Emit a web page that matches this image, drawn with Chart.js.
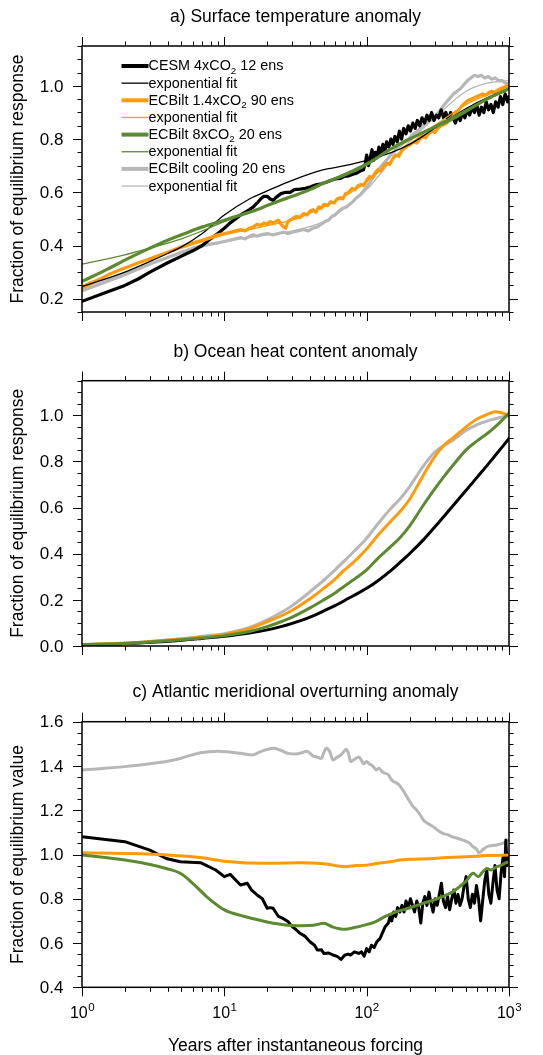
<!DOCTYPE html>
<html>
<head>
<meta charset="utf-8">
<script src="https://cdn.jsdelivr.net/npm/chart.js@4.4.1/dist/chart.umd.min.js"></script>
<style>
  body { margin: 0; background: #fff; }
  .panel { position: absolute; left: 0; }
</style>
</head>
<body>
<canvas id="panel-a" class="panel" width="543" height="330" style="top:0px;width:543px;height:330px"></canvas>
<canvas id="panel-b" class="panel" width="543" height="340" style="top:330px;width:543px;height:340px"></canvas>
<canvas id="panel-c" class="panel" width="543" height="385" style="top:670px;width:543px;height:385px"></canvas>
<script>
// colours
const BLACK = "#000000";
const ORANGE = "#ff9a0a";
const GREEN = "#5b8a30";
const GRAY = "#b7b7b7";
const FONT = '"Liberation Sans", Arial, Helvetica, sans-serif';

// ---- a) Surface temperature anomaly ----
const tsCesmYears = [1, 1.5, 2, 2.5, 3, 4, 5, 6, 7, 8, 9, 10, 11, 12, 13, 14, 15, 16, 17, 18, 19, 20, 21, 22, 23, 25, 27, 29, 31, 34, 37, 40, 44, 48, 52, 56, 60, 65, 70, 75, 80, 85, 90,
  95, 98, 100, 103, 106, 109, 112, 115, 118, 122, 126, 130, 134, 138, 143, 148, 153, 158, 164, 170, 176, 182, 189, 196, 203, 211, 219, 227, 236, 245, 255, 265, 275, 286, 297,
  309, 321, 334, 347, 360, 374, 389, 404, 420, 437, 454, 472, 490, 509, 529, 550, 572, 594, 617, 641, 666, 692, 719, 747, 776, 806, 838, 871, 905, 940, 977, 1000];
const tsCesm = [0.19, 0.225, 0.25, 0.275, 0.30, 0.335, 0.36, 0.38, 0.40, 0.425, 0.445, 0.465, 0.485, 0.50, 0.515, 0.525, 0.535, 0.545, 0.56, 0.575, 0.585, 0.585, 0.575, 0.57, 0.58, 0.595, 0.60, 0.60, 0.61, 0.612, 0.615, 0.62, 0.628, 0.632, 0.638, 0.644, 0.65, 0.652, 0.66, 0.662, 0.668, 0.672, 0.68,
  0.685, 0.71, 0.74, 0.70, 0.73, 0.76, 0.72, 0.75, 0.73, 0.77, 0.74, 0.78, 0.75, 0.79, 0.77, 0.80, 0.78, 0.81, 0.79, 0.83, 0.80, 0.84, 0.82, 0.85, 0.83, 0.86, 0.84, 0.87, 0.85, 0.88, 0.86, 0.89, 0.87, 0.90, 0.87,
  0.89, 0.88, 0.91, 0.88, 0.90, 0.87, 0.90, 0.88, 0.86, 0.89, 0.87, 0.90, 0.88, 0.91, 0.89, 0.92, 0.90, 0.93, 0.89, 0.92, 0.90, 0.94, 0.91, 0.93, 0.90, 0.94, 0.92, 0.96, 0.93, 0.97, 0.94, 0.96];
const tsCesmFitYears = [1, 2, 3, 4, 5, 7, 10, 15, 20, 30, 50, 70, 100, 150, 200, 300, 500, 700, 1000];
const tsCesmFit = [0.245, 0.30, 0.34, 0.37, 0.395, 0.445, 0.515, 0.575, 0.605, 0.645, 0.685, 0.70, 0.72, 0.75, 0.78, 0.84, 0.915, 0.955, 0.99];

const tsLowYears = [1, 1.3, 1.6, 2, 2.5, 3, 4, 5, 6, 7, 8, 9, 10, 11, 12, 13, 14, 15, 16, 17, 18, 19, 20, 21, 22, 23, 24, 25, 26, 27, 28, 29, 30, 32, 34, 36, 38, 40, 42, 44, 46, 48, 50,
  53, 56, 59, 62, 65, 68, 71, 75, 79, 83, 87, 91, 95, 100, 105, 110, 115, 120, 126, 132, 138, 145, 152, 160, 168, 176, 185, 194, 204, 214, 225, 236, 248, 260, 273, 287, 301,
  316, 332, 349, 366, 384, 403, 423, 444, 466, 489, 513, 539, 566, 594, 624, 655, 688, 722, 758, 796, 836, 878, 922, 968, 1000];
const tsLow = [0.24, 0.27, 0.295, 0.315, 0.335, 0.35, 0.375, 0.395, 0.41, 0.42, 0.43, 0.44, 0.445, 0.45, 0.455, 0.46, 0.455, 0.465, 0.47, 0.48, 0.475, 0.485, 0.48, 0.49, 0.485, 0.49, 0.495, 0.48, 0.47, 0.465, 0.49, 0.495, 0.50, 0.51, 0.505, 0.52, 0.515, 0.53, 0.535, 0.525, 0.545, 0.54, 0.555,
  0.55, 0.565, 0.56, 0.575, 0.58, 0.575, 0.595, 0.60, 0.615, 0.61, 0.625, 0.63, 0.625, 0.645, 0.66, 0.655, 0.675, 0.685, 0.68, 0.70, 0.71, 0.705, 0.725, 0.74, 0.735, 0.755, 0.765, 0.775, 0.78, 0.79, 0.785, 0.80, 0.81, 0.805, 0.82, 0.83, 0.825,
  0.84, 0.85, 0.855, 0.86, 0.875, 0.885, 0.90, 0.91, 0.925, 0.935, 0.945, 0.95, 0.955, 0.96, 0.965, 0.97, 0.965, 0.975, 0.98, 0.975, 0.985, 0.99, 0.995, 1.0, 1.0];
const tsLowFitYears = [1, 2, 3, 5, 7, 10, 15, 20, 30, 50, 70, 100, 150, 200, 300, 500, 700, 1000];
const tsLowFit = [0.25, 0.315, 0.35, 0.39, 0.415, 0.44, 0.46, 0.475, 0.495, 0.545, 0.585, 0.64, 0.72, 0.78, 0.85, 0.93, 0.965, 0.99];

const tsHighYears = [1, 1.5, 2, 3, 4, 5, 7, 10, 13, 16, 20, 25, 30, 40, 50, 70, 100, 150, 200, 300, 400, 500, 700, 1000];
const tsHigh = [0.265, 0.31, 0.345, 0.39, 0.42, 0.44, 0.47, 0.495, 0.515, 0.53, 0.55, 0.57, 0.585, 0.61, 0.635, 0.665, 0.705, 0.765, 0.80, 0.845, 0.875, 0.905, 0.95, 0.99];
const tsHighFitYears = [1, 2, 3, 5, 7, 10, 15, 20, 30, 50, 100, 200, 300, 500, 700, 1000];
const tsHighFit = [0.33, 0.365, 0.39, 0.425, 0.455, 0.49, 0.525, 0.55, 0.585, 0.635, 0.71, 0.80, 0.85, 0.91, 0.95, 0.985];

const tsCoolYears = [1, 1.5, 2, 3, 4, 5, 6, 7, 8, 9, 10, 11, 12, 13, 14, 15, 16, 17, 18, 20, 22, 24, 26, 28, 30, 33, 36, 39, 42, 45, 48, 51, 54, 57, 60, 64, 68, 72, 76, 80, 85, 90, 95,
  100, 106, 112, 118, 125, 132, 140, 148, 157, 166, 176, 186, 197, 208, 220, 233, 246, 260, 275, 291, 308, 326, 345, 365, 386, 408, 432, 457, 483, 511, 540, 571, 604, 639, 676, 715, 756, 800, 846, 895, 946, 1000];
const tsCool = [0.23, 0.265, 0.29, 0.33, 0.355, 0.375, 0.39, 0.40, 0.405, 0.41, 0.415, 0.42, 0.425, 0.43, 0.425, 0.435, 0.44, 0.435, 0.44, 0.445, 0.44, 0.445, 0.45, 0.445, 0.45, 0.455, 0.46, 0.455, 0.465, 0.47, 0.48, 0.49, 0.495, 0.51, 0.515, 0.53, 0.54, 0.545, 0.555, 0.565, 0.58, 0.59, 0.605,
  0.62, 0.64, 0.66, 0.675, 0.695, 0.71, 0.725, 0.74, 0.755, 0.77, 0.78, 0.79, 0.80, 0.815, 0.825, 0.835, 0.85, 0.86, 0.87, 0.88, 0.89, 0.905, 0.925, 0.94, 0.955, 0.97, 0.98, 0.99, 1.005, 1.02, 1.03, 1.04, 1.035, 1.04, 1.03, 1.035, 1.025, 1.03, 1.02, 1.02, 1.01, 1.01];
const tsCoolFitYears = [1, 2, 3, 5, 7, 10, 20, 30, 50, 70, 100, 150, 200, 300, 500, 700, 1000];
const tsCoolFit = [0.235, 0.295, 0.33, 0.37, 0.395, 0.415, 0.44, 0.455, 0.49, 0.54, 0.61, 0.72, 0.79, 0.88, 0.98, 1.01, 1.02];

// ---- b) Ocean heat content anomaly ----
const ohcYears = [1, 2, 3, 5, 7, 10, 15, 20, 25, 30, 40, 50, 60, 70, 80, 100, 120, 150, 170, 200, 250, 300, 350, 400, 500, 600, 700, 800, 900, 1000];
const ohcCesm = [0.005, 0.01, 0.016, 0.025, 0.033, 0.042, 0.056, 0.07, 0.084, 0.098, 0.125, 0.152, 0.175, 0.197, 0.217, 0.25, 0.283, 0.33, 0.36, 0.40, 0.46, 0.515, 0.562, 0.605, 0.675, 0.733, 0.782, 0.826, 0.864, 0.90];
const ohcLow = [0.006, 0.012, 0.019, 0.03, 0.039, 0.05, 0.075, 0.105, 0.13, 0.155, 0.205, 0.25, 0.29, 0.33, 0.36, 0.42, 0.48, 0.545, 0.58, 0.635, 0.74, 0.82, 0.87, 0.90, 0.95, 0.985, 1.003, 1.015, 1.01, 0.998];
const ohcHigh = [0.006, 0.011, 0.017, 0.027, 0.035, 0.045, 0.063, 0.084, 0.105, 0.125, 0.165, 0.20, 0.23, 0.26, 0.285, 0.33, 0.38, 0.435, 0.467, 0.52, 0.61, 0.68, 0.735, 0.78, 0.85, 0.89, 0.92, 0.95, 0.98, 1.01];
const ohcCool = [0.007, 0.013, 0.02, 0.032, 0.042, 0.053, 0.08, 0.113, 0.145, 0.175, 0.235, 0.285, 0.33, 0.37, 0.405, 0.467, 0.53, 0.60, 0.635, 0.69, 0.78, 0.84, 0.87, 0.89, 0.935, 0.96, 0.975, 0.985, 0.993, 0.997];

// ---- c) Atlantic meridional overturning anomaly ----
const amocCesmYears = [1, 2, 3, 3.9, 4.9, 6.8, 8.7, 10, 11, 12, 13, 14.5, 15.5, 17, 18.5, 20, 21, 22, 24, 26, 28, 30, 32, 34, 37, 40, 43, 45, 48, 50,
  54, 58, 62, 66, 70, 74, 77, 82, 88, 92, 96, 100, 104, 108, 113, 118, 124, 130, 135,
  142, 146, 150, 155, 160, 165, 171, 177, 183, 189, 196, 203, 210, 217, 225, 232, 240, 248, 256, 265, 274, 283, 293, 303, 313, 324, 335, 346, 358, 370, 383, 396,
  410, 424, 438, 453, 468, 484, 500, 517, 535, 553, 572, 591, 611, 632, 653, 675, 698, 722, 746, 771, 797, 824, 852, 881, 910, 930, 950, 970, 985, 1000];
const amocCesm = [1.08, 1.058, 1.02, 0.982, 0.967, 0.963, 0.93, 0.90, 0.91, 0.885, 0.862, 0.87, 0.84, 0.817, 0.80, 0.757, 0.76, 0.757, 0.72, 0.71, 0.697, 0.674, 0.66, 0.644, 0.63, 0.606, 0.59, 0.568, 0.57, 0.553,
  0.555, 0.546, 0.54, 0.526, 0.545, 0.55, 0.546, 0.56, 0.553, 0.56, 0.54, 0.575, 0.56, 0.59, 0.58, 0.606, 0.62, 0.65, 0.674,
  0.69, 0.72, 0.70, 0.74, 0.72, 0.76, 0.74, 0.77, 0.74, 0.79, 0.76, 0.80, 0.77, 0.74, 0.79, 0.76, 0.69, 0.78, 0.81, 0.77, 0.83, 0.78, 0.74, 0.80, 0.77, 0.82, 0.87, 0.79, 0.76, 0.81, 0.75, 0.80,
  0.84, 0.78, 0.82, 0.77, 0.80, 0.86, 0.90, 0.80, 0.76, 0.82, 0.78, 0.86, 0.80, 0.70, 0.79, 0.88, 0.93, 0.82, 0.78, 0.87, 0.95, 0.84, 0.80, 0.92, 0.99, 0.90, 1.065, 0.95, 1.00, 0.96];
const amocLowYears = [1, 2, 4, 7, 10, 20, 34, 50, 58, 70, 85, 100, 120, 150, 171, 200, 293, 400, 505, 700, 1000];
const amocLow = [1.008, 1.005, 0.998, 0.985, 0.97, 0.96, 0.963, 0.958, 0.952, 0.945, 0.95, 0.952, 0.96, 0.968, 0.975, 0.978, 0.982, 0.988, 0.99, 0.995, 0.998];
const amocHighYears = [1, 2, 3, 3.9, 4.9, 6, 7.5, 10, 13, 16, 20, 28, 35, 42, 50, 58, 70, 82, 95, 115, 135, 160, 180, 215, 250, 300, 342, 400, 450, 500, 560, 610, 650, 700, 750, 820, 870, 930, 1000];
const amocHigh = [0.998, 0.975, 0.955, 0.937, 0.915, 0.87, 0.81, 0.75, 0.725, 0.71, 0.695, 0.68, 0.678, 0.68, 0.689, 0.672, 0.662, 0.67, 0.68, 0.696, 0.72, 0.74, 0.75, 0.765, 0.78, 0.795, 0.81, 0.83, 0.855, 0.88, 0.915, 0.90, 0.92, 0.937, 0.93, 0.945, 0.95, 0.96, 0.967];
const amocCoolYears = [1, 2, 3, 3.9, 4.9, 6.8, 9, 10.5, 13, 15.8, 17.8, 20, 22, 24.6, 28, 32, 35, 38, 42, 45, 48, 50, 52, 55, 58, 62, 66, 69, 72, 75, 77, 82, 88, 92, 95,
  100, 104, 108, 112, 117, 122, 128, 135, 142, 150, 160, 169, 180, 198, 210, 225, 240, 250, 270, 293, 315, 342, 370, 400, 450, 505, 530, 560, 590, 615, 650, 700, 760, 820, 900, 1000];
const amocCool = [1.382, 1.397, 1.41, 1.42, 1.434, 1.46, 1.467, 1.464, 1.457, 1.45, 1.464, 1.475, 1.48, 1.472, 1.457, 1.454, 1.46, 1.467, 1.445, 1.44, 1.434, 1.46, 1.48, 1.465, 1.427, 1.44, 1.45, 1.465, 1.475, 1.45, 1.42, 1.43, 1.44, 1.425, 1.41,
  1.42, 1.41, 1.404, 1.395, 1.382, 1.39, 1.375, 1.367, 1.36, 1.336, 1.325, 1.314, 1.29, 1.246, 1.22, 1.20, 1.175, 1.156, 1.14, 1.126, 1.11, 1.095, 1.09, 1.08, 1.07, 1.058, 1.05, 1.035, 1.025, 1.008, 1.02, 1.035, 1.04, 1.043, 1.05, 1.065];

// legend text and axis text
const legendLabels = ["CESM 4xCO₂ 12 ens", "exponential fit", "ECBilt 1.4xCO₂ 90 ens", "exponential fit",
  "ECBilt 8xCO₂ 20 ens", "exponential fit", "ECBilt cooling 20 ens", "exponential fit"];
const legendColors = [BLACK, BLACK, ORANGE, ORANGE, GREEN, GREEN, GRAY, GRAY];
const legendThick = [true, false, true, false, true, false, true, false];
const xTickExponents = [0, 1, 2, 3];

function pts(xs, ys) {
  return xs.map((x, i) => ({ x: x, y: ys[i] }));
}

function line(xs, ys, color, width, smooth) {
  return {
    data: pts(xs, ys),
    borderColor: color,
    borderWidth: width,
    pointRadius: 0,
    fill: false,
    tension: 0,
    cubicInterpolationMode: smooth ? "monotone" : "default",
    borderJoinStyle: "round",
    borderCapStyle: "round",
  };
}

function setFont(ctx, size) {
  ctx.font = size + "px " + FONT;
}

// draws text, lowering the "₂" as a real subscript
function drawSubText(ctx, text, x, y, size) {
  const parts = text.split("₂");
  let cx = x;
  parts.forEach((p, i) => {
    setFont(ctx, size);
    ctx.fillText(p, cx, y);
    cx += ctx.measureText(p).width;
    if (i < parts.length - 1) {
      setFont(ctx, size * 0.68);
      ctx.fillText("2", cx, y + size * 0.3);
      cx += ctx.measureText("2").width;
    }
  });
}

const panelDeco = {
  id: "panelDeco",
  afterDraw(chart, args, opts) {
    const ctx = chart.ctx;
    const a = chart.chartArea;
    const xs = chart.scales.x;
    const ys = chart.scales.y;
    ctx.save();
    ctx.fillStyle = "#000";
    ctx.strokeStyle = "#000";

    // frame
    ctx.lineWidth = 1.5;
    ctx.strokeRect(a.left, a.top, a.right - a.left, a.bottom - a.top);

    // x ticks, outward on top and bottom
    ctx.lineWidth = 1;
    ctx.beginPath();
    for (let d = 0; d <= 3; d++) {
      for (let k = 1; k <= 9; k++) {
        const v = k * Math.pow(10, d);
        if (v > 1000) break;
        const px = Math.round(xs.getPixelForValue(v)) + 0.5;
        const len = k === 1 ? 9 : 4.5;
        ctx.moveTo(px, a.bottom);
        ctx.lineTo(px, a.bottom + len);
        ctx.moveTo(px, a.top);
        ctx.lineTo(px, a.top - len);
      }
    }
    // y ticks every 0.05, major every 0.2
    const n = Math.round((ys.max - ys.min) / 0.05);
    const majors = [];
    for (let i = 0; i <= n; i++) {
      const v = ys.min + i * 0.05;
      const major = Math.abs(v / 0.2 - Math.round(v / 0.2)) < 1e-6;
      const py = Math.round(ys.getPixelForValue(v)) + 0.5;
      const len = major ? 9 : 4.5;
      ctx.moveTo(a.left, py);
      ctx.lineTo(a.left - len, py);
      ctx.moveTo(a.right, py);
      ctx.lineTo(a.right + len, py);
      if (major) majors.push(v);
    }
    ctx.stroke();

    // y tick labels
    setFont(ctx, 17);
    ctx.textAlign = "right";
    ctx.textBaseline = "middle";
    majors.forEach((v) => {
      ctx.fillText(v.toFixed(1), a.left - 18.5, ys.getPixelForValue(v) + 1);
    });

    // title
    const cx = (a.left + a.right) / 2;
    setFont(ctx, 17.5);
    ctx.textAlign = "center";
    ctx.fillText(opts.title, cx, opts.titleY);

    // y axis title
    ctx.save();
    ctx.translate(18, (a.top + a.bottom) / 2);
    ctx.rotate(-Math.PI / 2);
    setFont(ctx, 17.5);
    ctx.fillText(opts.yTitle, 0, 0);
    ctx.restore();

    // x tick labels and title (bottom panel only)
    if (opts.xLabels) {
      ctx.textAlign = "left";
      ctx.textBaseline = "alphabetic";
      xTickExponents.forEach((e) => {
        const px = xs.getPixelForValue(Math.pow(10, e));
        setFont(ctx, 16);
        const w1 = ctx.measureText("10").width;
        setFont(ctx, 11.5);
        const w2 = ctx.measureText(String(e)).width;
        const x0 = px - (w1 + w2) / 2;
        setFont(ctx, 16);
        ctx.fillText("10", x0, a.bottom + 30.5);
        setFont(ctx, 11.5);
        ctx.fillText(String(e), x0 + w1 + 0.5, a.bottom + 24);
      });
      setFont(ctx, 17.5);
      ctx.textAlign = "center";
      ctx.textBaseline = "middle";
      ctx.fillText(opts.xTitle, cx, a.bottom + 58.5);
    }

    // legend (top panel only)
    if (opts.legend) {
      ctx.textAlign = "left";
      ctx.textBaseline = "middle";
      legendLabels.forEach((lab, i) => {
        const y = 66 + i * 17.15;
        ctx.strokeStyle = legendColors[i];
        ctx.lineWidth = legendThick[i] ? 4 : 1.3;
        ctx.beginPath();
        ctx.moveTo(121.5, y);
        ctx.lineTo(148.5, y);
        ctx.stroke();
        ctx.fillStyle = "#000";
        drawSubText(ctx, lab, 148.5, y + 0.5, 14.4);
      });
    }
    ctx.restore();
  },
};

function makePanel(id, pad, yMin, yMax, datasets, deco) {
  return new Chart(document.getElementById(id), {
    type: "line",
    data: { datasets: datasets },
    options: {
      responsive: false,
      animation: false,
      devicePixelRatio: 1,
      layout: { padding: pad },
      plugins: {
        legend: { display: false },
        tooltip: { enabled: false },
        panelDeco: deco,
      },
      scales: {
        x: { type: "logarithmic", min: 1, max: 1000, display: false },
        y: { type: "linear", min: yMin, max: yMax, display: false },
      },
    },
    plugins: [panelDeco],
  });
}

// first dataset is drawn on top
makePanel("panel-a", { left: 82, right: 34, top: 46, bottom: 18 }, 0.15, 1.15, [
  line(tsHighFitYears, tsHighFit, GREEN, 1.3, true),
  line(tsHighYears, tsHigh, GREEN, 3.2, true),
  line(tsCesmFitYears, tsCesmFit, BLACK, 1.3, true),
  line(tsLowFitYears, tsLowFit, ORANGE, 1.3, true),
  line(tsLowYears, tsLow, ORANGE, 3.2, false),
  line(tsCesmYears, tsCesm, BLACK, 3.2, false),
  line(tsCoolFitYears, tsCoolFit, GRAY, 1.3, true),
  line(tsCoolYears, tsCool, GRAY, 3.2, false),
], { title: "a) Surface temperature anomaly", titleY: 17, yTitle: "Fraction of equilibrium response", legend: true });

makePanel("panel-b", { left: 82, right: 34, top: 50.7, bottom: 24 }, 0, 1.15, [
  line(ohcYears, ohcHigh, GREEN, 3, true),
  line(ohcYears, ohcLow, ORANGE, 3, true),
  line(ohcYears, ohcCesm, BLACK, 3, true),
  line(ohcYears, ohcCool, GRAY, 3, true),
], { title: "b) Ocean heat content anomaly", titleY: 21.7, yTitle: "Fraction of equilibrium response" });

makePanel("panel-c", { left: 82, right: 34, top: 51.7, bottom: 67.7 }, 0.4, 1.6, [
  line(amocHighYears, amocHigh, GREEN, 3, true),
  line(amocLowYears, amocLow, ORANGE, 3, true),
  line(amocCesmYears, amocCesm, BLACK, 3, false),
  line(amocCoolYears, amocCool, GRAY, 3, true),
], { title: "c) Atlantic meridional overturning anomaly", titleY: 21.7, yTitle: "Fraction of equilibrium value",
  xLabels: true, xTitle: "Years after instantaneous forcing" });
</script>
</body>
</html>
